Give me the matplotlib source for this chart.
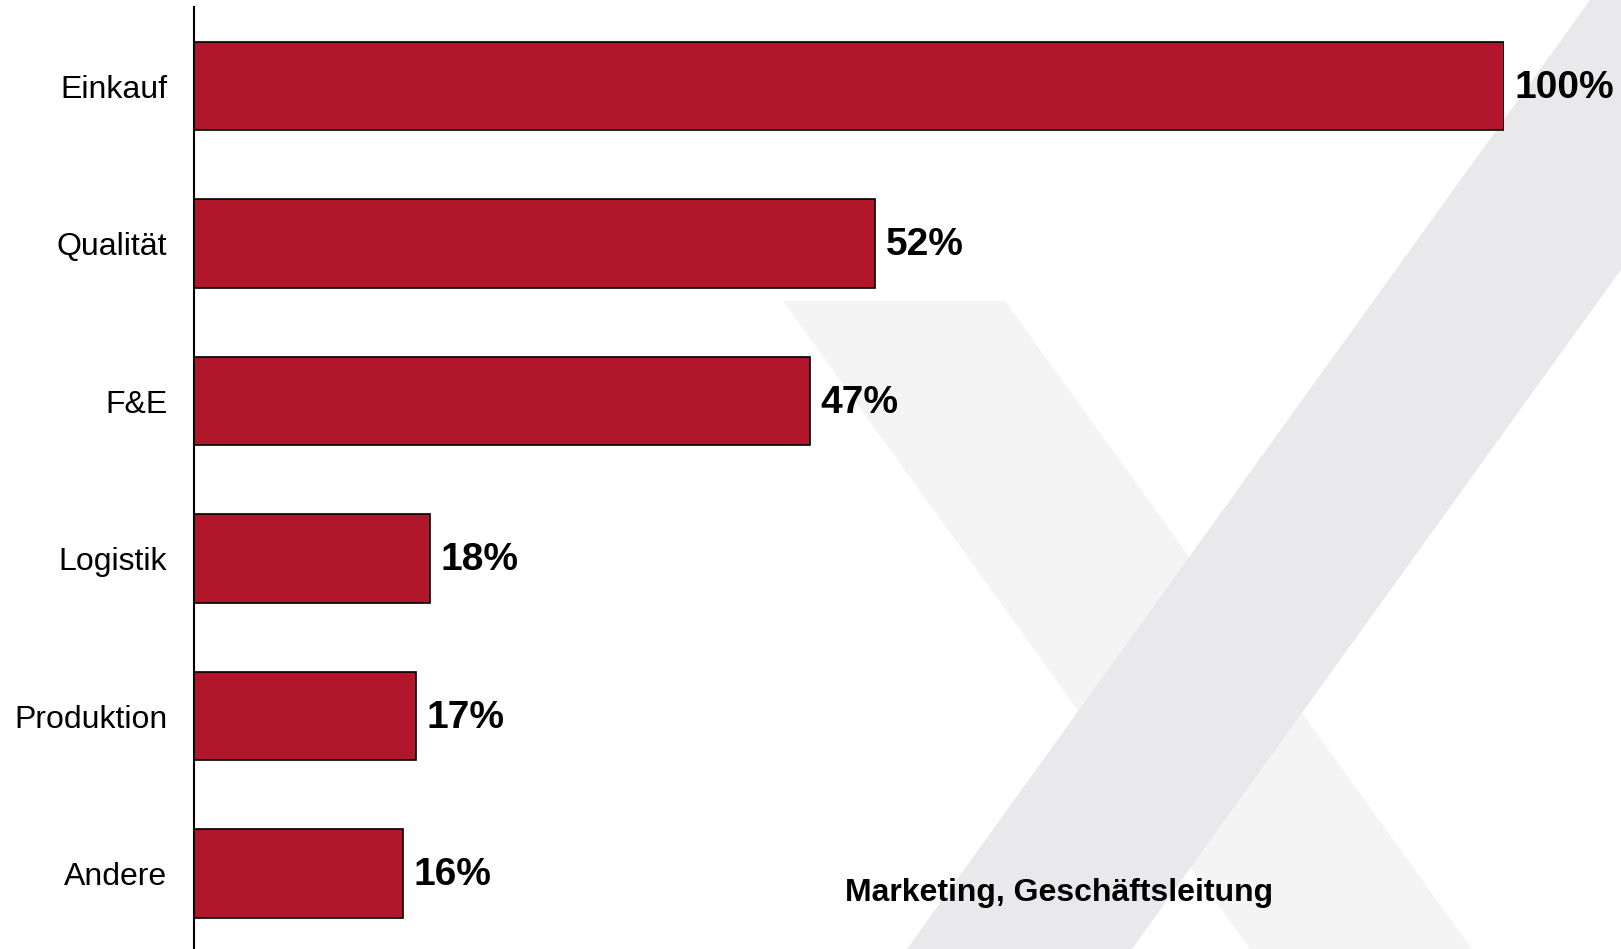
import matplotlib.pyplot as plt
from matplotlib.patches import Polygon

plt.rcParams['font.family'] = ['Liberation Sans', 'DejaVu Sans']

categories = ['Einkauf', 'Qualität', 'F&E', 'Logistik', 'Produktion', 'Andere']
values = [100, 52, 47, 18, 17, 16]
footnote = 'Marketing, Geschäftsleitung'

bar_color = '#b2162b'
W, H = 1621, 949

fig = plt.figure(figsize=(W / 100, H / 100), dpi=100)

# background layer in pixel units for the "X" watermark
bg = fig.add_axes([0, 0, 1, 1], zorder=0)
bg.set_xlim(0, W)
bg.set_ylim(H, 0)
bg.axis('off')
bg.add_patch(Polygon([(783, 301), (1005, 301), (1472, 949), (1250, 949)],
                     closed=True, facecolor='#f4f4f4', edgecolor='none'))
bg.add_patch(Polygon([(1590, 0), (1815, 0), (1132, 949), (907, 949)],
                     closed=True, facecolor='#e9e9eb', edgecolor='none'))
bg.text(845, 901, footnote, fontsize=23, fontweight='bold',
        ha='left', va='baseline', color='black')

ax = fig.add_axes([193.7 / W, 0, (1504 - 193.7) / W, (H - 7) / H], zorder=1)
ax.patch.set_alpha(0)

pos = list(range(len(categories)))
ax.barh(pos, values, height=0.56, color=bar_color, edgecolor='black',
        linewidth=1.2)
ax.set_xlim(0, 100)
ax.set_ylim(5.479, -0.502)

for p, v in zip(pos, values):
    ax.text(v + 0.8, p - 0.015, f'{v}%', fontsize=28, fontweight='bold',
            ha='left', va='center_baseline', clip_on=False)

ax.set_yticks(pos)
ax.set_yticklabels(categories, fontsize=23)
ax.tick_params(axis='y', length=0, pad=19)
ax.set_xticks([])
for side in ['top', 'right', 'bottom']:
    ax.spines[side].set_visible(False)
ax.spines['left'].set_linewidth(1.5)

fig.savefig('out.png', dpi=100)
